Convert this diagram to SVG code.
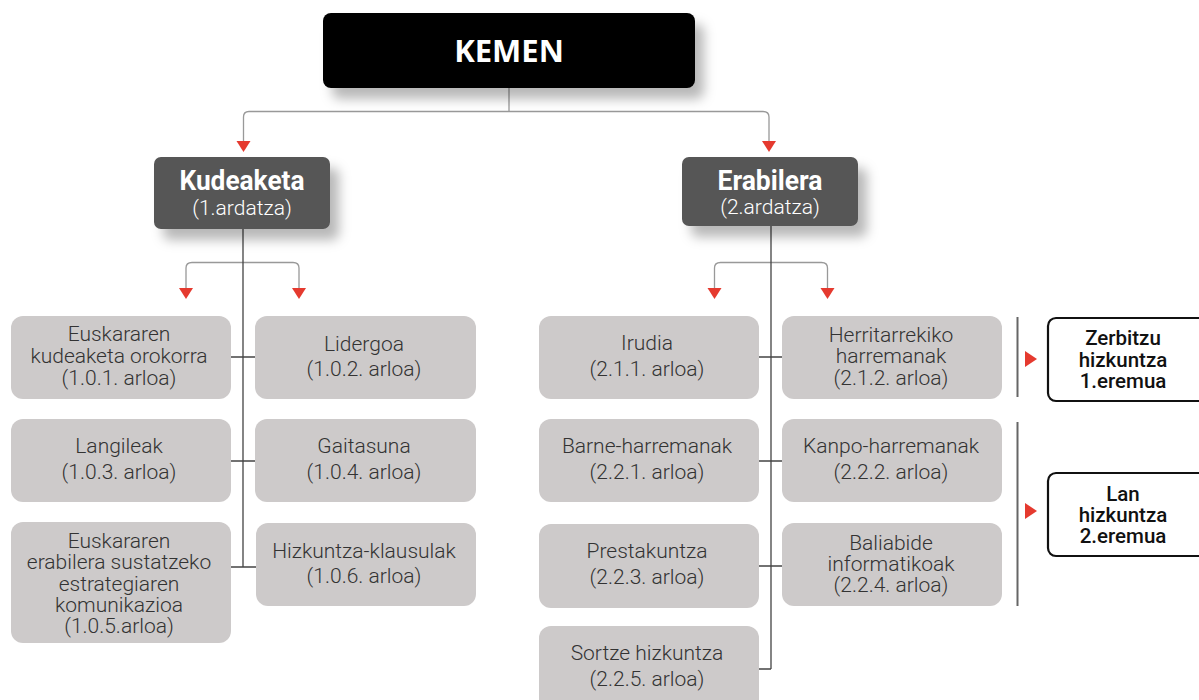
<svg xmlns="http://www.w3.org/2000/svg" width="1199" height="700" viewBox="0 0 1199 700">
<defs>
<filter id="sh" x="-20%" y="-30%" width="150%" height="190%">
<feDropShadow dx="9" dy="11" stdDeviation="6" flood-color="#000" flood-opacity="0.28"/>
</filter>
<style>
.box{fill:#cdcaca}
.t{font-family:Roboto,"Liberation Sans",sans-serif;font-weight:300;font-size:21px;fill:#333;text-anchor:middle}
.w{font-family:Roboto,"Liberation Sans",sans-serif;fill:#fff;text-anchor:middle}
.z{font-family:Roboto,"Liberation Sans",sans-serif;font-weight:500;font-size:20.5px;fill:#111;text-anchor:middle}
.lt{fill:none;stroke:#999;stroke-width:1.3}
.dk{fill:none;stroke:#444;stroke-width:1.3}
.sep{fill:none;stroke:#666;stroke-width:2}
.ar{fill:#e53a2f}
</style>
</defs>
<rect width="1199" height="700" fill="#fff"/>

<g id="connectors">
<path class="lt" d="M509,88 V111.5 M243.5,141 V117 Q243.5,111.5 249,111.5 H763 Q769,111.5 769,117 V141"/>
<path class="lt" d="M186,288 V268 Q186,262.5 192,262.5 H293 Q299,262.5 299,268 V288"/>
<path class="lt" d="M714.5,288 V268 Q714.5,262.5 720.5,262.5 H821.5 Q827.5,262.5 827.5,268 V288"/>
<path class="dk" d="M243,229 V567 M231,357 H256 M231,461 H256 M231,567 H256"/>
<path class="dk" d="M771,226 V669 M759,357 H782 M759,461 H782 M759,566 H782 M759,669 H771"/>
<path class="sep" d="M1017.5,317 V397 M1017.5,422 V606"/>
<polygon class="ar" points="236.5,141 250.5,141 243.5,152"/>
<polygon class="ar" points="762,141 776,141 769,152"/>
<polygon class="ar" points="179,288 193,288 186,299"/>
<polygon class="ar" points="292,288 306,288 299,299"/>
<polygon class="ar" points="707.5,288 721.5,288 714.5,299"/>
<polygon class="ar" points="820.5,288 834.5,288 827.5,299"/>
<polygon class="ar" points="1025,351 1037,359 1025,367"/>
<polygon class="ar" points="1025,503 1037,511 1025,519"/>
</g>

<g id="kemen">
<rect x="323" y="13" width="372" height="75" rx="8" fill="#000" filter="url(#sh)"/>
<text x="509" y="62" class="w" style="font-family:'Open Sans','Liberation Sans',sans-serif;font-weight:700;font-size:31px">KEMEN</text>
</g>

<g id="kudeaketa">
<rect x="154" y="157" width="176" height="72" rx="7" fill="#565656" filter="url(#sh)"/>
<text x="242" y="190" class="w" style="font-weight:700;font-size:27px" textLength="125" lengthAdjust="spacingAndGlyphs">Kudeaketa</text>
<text x="242" y="215" class="w" style="font-weight:300;font-size:21px">(1.ardatza)</text>
</g>

<g id="erabilera">
<rect x="682" y="157" width="176" height="69" rx="7" fill="#565656" filter="url(#sh)"/>
<text x="770" y="190" class="w" style="font-weight:700;font-size:27px" textLength="105" lengthAdjust="spacingAndGlyphs">Erabilera</text>
<text x="770" y="214" class="w" style="font-weight:300;font-size:21px">(2.ardatza)</text>
</g>

<g id="n101">
<rect class="box" x="11" y="316" width="220" height="83" rx="12"/>
<text class="t" x="119" y="341">Euskararen</text>
<text class="t" x="119" y="363">kudeaketa orokorra</text>
<text class="t" x="119" y="385">(1.0.1. arloa)</text>
</g>
<g id="n102">
<rect class="box" x="255" y="316" width="221" height="83" rx="12"/>
<text class="t" x="364" y="351">Lidergoa</text>
<text class="t" x="364" y="376">(1.0.2. arloa)</text>
</g>
<g id="n103">
<rect class="box" x="11" y="419" width="220" height="83" rx="12"/>
<text class="t" x="119" y="453">Langileak</text>
<text class="t" x="119" y="479">(1.0.3. arloa)</text>
</g>
<g id="n104">
<rect class="box" x="255" y="419" width="221" height="83" rx="12"/>
<text class="t" x="364" y="453">Gaitasuna</text>
<text class="t" x="364" y="479">(1.0.4. arloa)</text>
</g>
<g id="n105">
<rect class="box" x="11" y="522" width="220" height="121" rx="12"/>
<text class="t" x="119" y="548">Euskararen</text>
<text class="t" x="119" y="569">erabilera sustatzeko</text>
<text class="t" x="119" y="591">estrategiaren</text>
<text class="t" x="119" y="612">komunikazioa</text>
<text class="t" x="119" y="633">(1.0.5.arloa)</text>
</g>
<g id="n106">
<rect class="box" x="256" y="523" width="220" height="83" rx="12"/>
<text class="t" x="364" y="558">Hizkuntza-klausulak</text>
<text class="t" x="364" y="583">(1.0.6. arloa)</text>
</g>

<g id="n211">
<rect class="box" x="539" y="316" width="220" height="83" rx="12"/>
<text class="t" x="647" y="350">Irudia</text>
<text class="t" x="647" y="376">(2.1.1. arloa)</text>
</g>
<g id="n212">
<rect class="box" x="782" y="316" width="220" height="83" rx="12"/>
<text class="t" x="891" y="342">Herritarrekiko</text>
<text class="t" x="891" y="363">harremanak</text>
<text class="t" x="891" y="385">(2.1.2. arloa)</text>
</g>
<g id="n221">
<rect class="box" x="539" y="419" width="220" height="83" rx="12"/>
<text class="t" x="647" y="453">Barne-harremanak</text>
<text class="t" x="647" y="479">(2.2.1. arloa)</text>
</g>
<g id="n222">
<rect class="box" x="782" y="419" width="220" height="83" rx="12"/>
<text class="t" x="891" y="453">Kanpo-harremanak</text>
<text class="t" x="891" y="479">(2.2.2. arloa)</text>
</g>
<g id="n223">
<rect class="box" x="539" y="524" width="220" height="84" rx="12"/>
<text class="t" x="647" y="558">Prestakuntza</text>
<text class="t" x="647" y="584">(2.2.3. arloa)</text>
</g>
<g id="n224">
<rect class="box" x="782" y="523" width="220" height="83" rx="12"/>
<text class="t" x="891" y="550">Baliabide</text>
<text class="t" x="891" y="571">informatikoak</text>
<text class="t" x="891" y="592">(2.2.4. arloa)</text>
</g>
<g id="n225">
<rect class="box" x="539" y="626" width="220" height="90" rx="12"/>
<text class="t" x="647" y="660">Sortze hizkuntza</text>
<text class="t" x="647" y="686">(2.2.5. arloa)</text>
</g>

<g id="eremua1">
<rect x="1048" y="318" width="160" height="83" rx="8" fill="#fff" stroke="#111" stroke-width="2.2"/>
<text class="z" x="1123" y="345">Zerbitzu</text>
<text class="z" x="1123" y="367">hizkuntza</text>
<text class="z" x="1123" y="388">1.eremua</text>
</g>
<g id="eremua2">
<rect x="1048" y="473" width="160" height="83" rx="8" fill="#fff" stroke="#111" stroke-width="2.2"/>
<text class="z" x="1123" y="501">Lan</text>
<text class="z" x="1123" y="522">hizkuntza</text>
<text class="z" x="1123" y="543">2.eremua</text>
</g>
</svg>
